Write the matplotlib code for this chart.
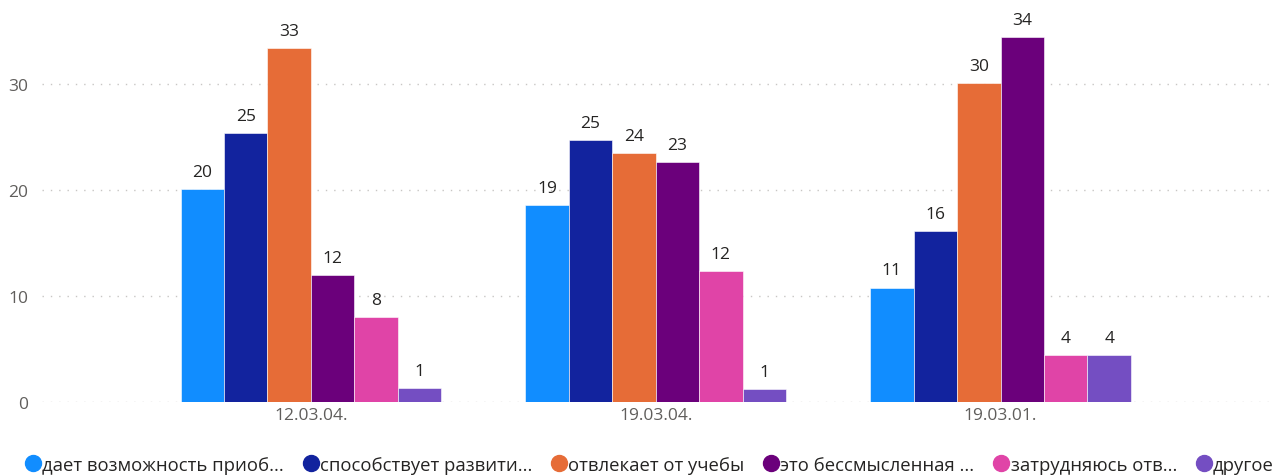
import numpy as np
import matplotlib.pyplot as plt
from matplotlib.lines import Line2D

plt.rcParams['font.family'] = ['Open Sans', 'DejaVu Sans']

groups = ["12.03.04.", "19.03.04.", "19.03.01."]
series = ["дает возможность приоб...", "способствует развити...", "отвлекает от учебы",
          "это бессмысленная ...", "затрудняюсь отв...", "другое"]
colors = ["#118DFF", "#12239E", "#E66C37", "#6B007B", "#E044A7", "#744EC2"]

# values per series (one per group); labels are rounded
values = [
    [20.1, 18.6, 10.8],
    [25.4, 24.7, 16.1],
    [33.4, 23.5, 30.1],
    [12.0, 22.6, 34.4],
    [8.05, 12.4, 4.4],
    [1.3, 1.2, 4.4],
]

fig = plt.figure(figsize=(12.72, 4.77), dpi=100)
ax = fig.add_axes([0.033, 0.155, 0.965, 0.805])

x = np.arange(len(groups))
w = 0.126
for i, (name, vals) in enumerate(zip(series, values)):
    pos = x + (i - 2.5) * w
    ax.bar(pos, vals, width=w, color=colors[i], edgecolor="white", linewidth=0.4, zorder=3)
    for p, v in zip(pos, vals):
        ax.text(p, v + 0.85, f"{v:.0f}", ha="center", va="bottom",
                fontsize=12.5, color="#252423")

ax.set_xlim(-0.78, 2.78)
ax.set_ylim(0, 36.2)
ax.set_yticks([0, 10, 20, 30])
ax.set_xticks(x)
ax.set_xticklabels(groups)
ax.tick_params(axis="both", length=0, labelsize=12.5, colors="#605E5C")
ax.tick_params(axis="y", pad=10)
ax.grid(axis="y", linestyle=(0, (1, 5)), color="#C8C6C4", linewidth=1, zorder=0)
for s in ax.spines.values():
    s.set_visible(False)

handles = [Line2D([], [], marker="o", linestyle="", markersize=11.5,
                  markerfacecolor=c, markeredgecolor=c) for c in colors]
fig.legend(handles, series, loc="lower left", bbox_to_anchor=(0.004, -0.03), ncol=6,
           frameon=False, fontsize=13.3, handletextpad=-0.1, columnspacing=0.85,
           handlelength=1.2, labelcolor="#252423")

fig.savefig("out.png", dpi=100)
